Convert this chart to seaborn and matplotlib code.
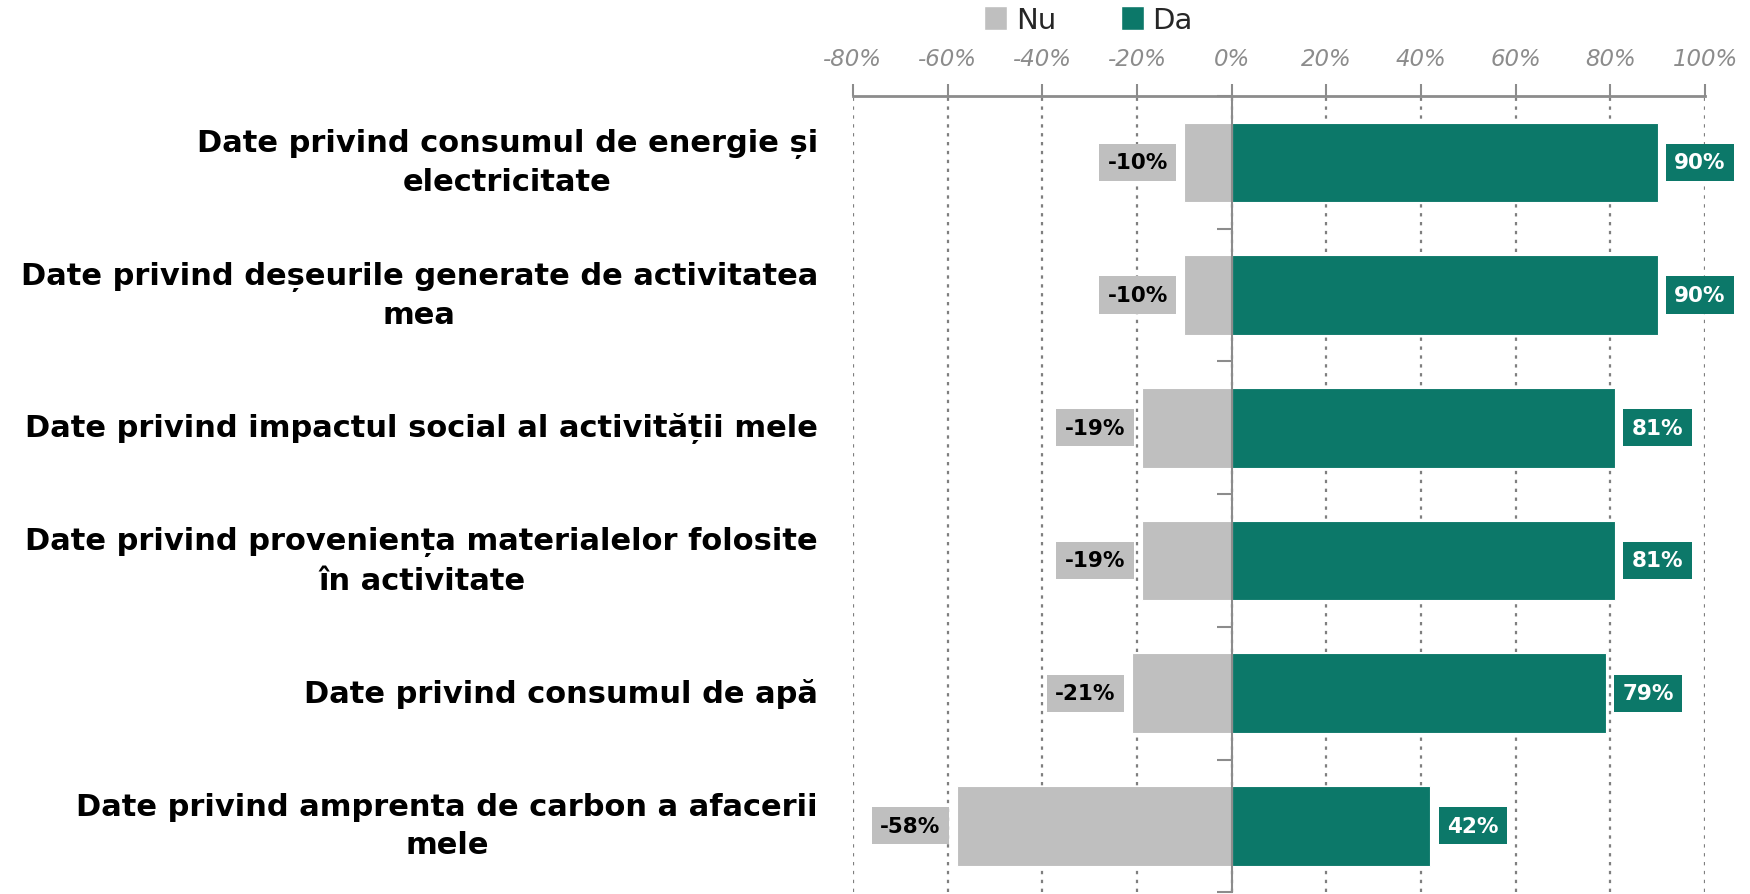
import numpy as np
import pandas as pd
import matplotlib
matplotlib.use("Agg")
import matplotlib.pyplot as plt
from matplotlib.patches import Patch
import seaborn as sns

# chart data, top row first
categories = [
    "Date privind consumul de energie și\nelectricitate",
    "Date privind deșeurile generate de activitatea\nmea",
    "Date privind impactul social al activității mele",
    "Date privind proveniența materialelor folosite\nîn activitate",
    "Date privind consumul de apă",
    "Date privind amprenta de carbon a afacerii\nmele",
]
da_values = [90, 90, 81, 81, 79, 42]
nu_values = [-10, -10, -19, -19, -21, -58]
x_ticks = [-80, -60, -40, -20, 0, 20, 40, 60, 80, 100]

teal = "#0C7869"
grey = "#BFBFBF"
axis_grey = "#8C8C8C"

sns.set_theme(style="white")
plt.rcParams["font.family"] = ["DejaVu Sans"]

# long table for seaborn
df = pd.DataFrame({
    "cat": categories * 2,
    "val": nu_values + da_values,
    "resp": ["Nu"] * len(categories) + ["Da"] * len(categories),
})

fig = plt.figure(figsize=(17.5, 8.95), dpi=100)
ax = fig.add_axes([0.4874, 0.002, 0.4869, 0.8896])

sns.barplot(data=df, y="cat", x="val", hue="resp", dodge=False, saturation=1,
            palette={"Nu": grey, "Da": teal}, width=0.6, orient="h",
            edgecolor="white", linewidth=0.8, ax=ax, legend=False, zorder=3)

ax.set_xlim(-80, 100)
ax.set_ylim(len(categories) - 0.5, -0.5)
ax.set_xlabel("")
ax.set_ylabel("")

# x axis on top, italic grey percent labels
ax.xaxis.tick_top()
ax.set_xticks(x_ticks)
ax.set_xticklabels([f"{t}%" for t in x_ticks], fontsize=16.5, style="italic", color=axis_grey)
ax.tick_params(axis="x", direction="out", length=9, width=1.5, color=axis_grey, pad=10)
ax.grid(axis="x", linestyle=(0, (1.5, 2.5)), color="#7F7F7F", linewidth=1.6)
ax.set_axisbelow(True)

# vertical axis line through zero
for side in ["right", "bottom"]:
    ax.spines[side].set_visible(False)
ax.spines["top"].set_color(axis_grey)
ax.spines["top"].set_linewidth(2)
ax.spines["left"].set_position(("data", 0))
ax.spines["left"].set_color(axis_grey)
ax.spines["left"].set_linewidth(1.5)
ax.spines["left"].set_zorder(5)
ax.set_yticks(range(len(categories)))
ax.set_yticklabels([])
ax.set_yticks(np.arange(-0.5, len(categories), 1), minor=True)
ax.tick_params(axis="y", which="major", direction="in", length=8, width=1.5, color=axis_grey, left=True)
ax.tick_params(axis="y", which="minor", direction="out", length=11, width=1.5, color=axis_grey, left=True)

# category labels on the far left
for i, c in enumerate(categories):
    ax.text(-0.041, i, c, transform=ax.get_yaxis_transform(), ha="right", va="center",
            multialignment="center", fontsize=22, fontweight="bold", color="black",
            linespacing=1.4)

# value labels
for i, (n, d) in enumerate(zip(nu_values, da_values)):
    ax.annotate(f"{n}%", (n, i), xytext=(-12, 0), textcoords="offset points",
                ha="right", va="center", fontsize=15.5, fontweight="bold", color="black",
                bbox=dict(boxstyle="square,pad=0.4", fc=grey, ec="none"), zorder=6)
    ax.annotate(f"{d}%", (d, i), xytext=(12, 0), textcoords="offset points",
                ha="left", va="center", fontsize=15.5, fontweight="bold", color="white",
                bbox=dict(boxstyle="square,pad=0.4", fc=teal, ec="none"), zorder=6)

handles = [Patch(facecolor=grey, label="Nu"), Patch(facecolor=teal, label="Da")]
fig.legend(handles=handles, loc="center", bbox_to_anchor=(0.622, 0.977), ncol=2,
           frameon=False, fontsize=21, handlelength=0.8, handleheight=0.9,
           handletextpad=0.3, columnspacing=2.2)

fig.savefig("out.png", dpi=100)
